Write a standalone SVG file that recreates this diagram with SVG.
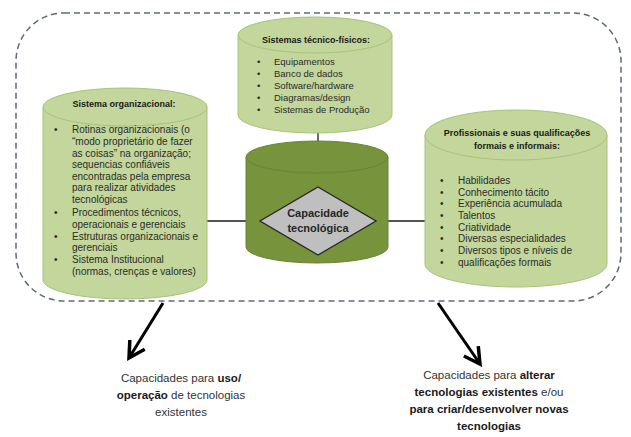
<svg xmlns="http://www.w3.org/2000/svg" width="631" height="437" viewBox="0 0 631 437">
<defs>
<style>
.cyl{fill:#C3D69B;stroke:#A9C37A;stroke-width:1}
.cylD{fill:#77933C;stroke:#6A8535;stroke-width:1}
.t{font-family:"Liberation Sans",Arial,sans-serif;font-size:10px;fill:#2b2b2b}
.tt{font-family:"Liberation Sans",Arial,sans-serif;font-size:9px;font-weight:bold;fill:#1a1a1a;text-anchor:middle}
.dt{font-family:"Liberation Sans",Arial,sans-serif;font-size:11px;font-weight:bold;fill:#262626;text-anchor:middle}
.b{font-family:"Liberation Sans",Arial,sans-serif;font-size:11.5px;fill:#333;text-anchor:middle}
.bb{font-weight:bold;fill:#1a1a1a}
.ln{stroke:#1a1a1a;stroke-width:1.3;fill:none}
.arr{stroke:#000;stroke-width:3;fill:none;marker-end:url(#chev)}
</style>
<marker id="chev" viewBox="0 0 12 12" refX="10" refY="6" markerWidth="7" markerHeight="7" orient="auto" markerUnits="strokeWidth">
<path d="M1,1 L10,6 L1,11" fill="none" stroke="#000" stroke-width="2"/>
</marker>
</defs>
<rect x="16" y="13" width="605" height="288" rx="48" ry="48" fill="none" stroke="#5f6a75" stroke-width="1.5" stroke-dasharray="6,4"/>
<g id="connectors">
<line class="ln" x1="318" y1="131" x2="318" y2="187"/>
<line class="ln" x1="206" y1="221" x2="260" y2="221"/>
<line class="ln" x1="376" y1="221" x2="426" y2="221"/>
<line class="arr" x1="163" y1="303" x2="129" y2="358"/>
<line class="arr" x1="438" y1="303" x2="480" y2="364"/>
</g>
<g id="centro">
<path class="cylD" d="M246,157 L246,247 A71,16 0 0 0 388,247 L388,157 Z"/>
<ellipse class="cylD" cx="317" cy="157" rx="71" ry="16"/>
</g>
<g id="tecnico-fisicos">
<path class="cyl" d="M238,35 L238,115 A77,18 0 0 0 392,115 L392,35 Z"/>
<ellipse class="cyl" cx="315" cy="35" rx="77" ry="18"/>
<text class="tt" x="316" y="43">Sistemas técnico-físicos:</text>
<g class="t" style="font-size:9.5px">
<text x="257" y="64.5">•</text><text x="274" y="64.5">Equipamentos</text>
<text x="257" y="76.5">•</text><text x="274" y="76.5">Banco de dados</text>
<text x="257" y="88.5">•</text><text x="274" y="88.5">Software/hardware</text>
<text x="257" y="100.5">•</text><text x="274" y="100.5">Diagramas/design</text>
<text x="257" y="113">•</text><text x="274" y="113">Sistemas de Produção</text>
</g>
</g>
<g id="organizacional">
<path class="cyl" d="M43,107 L43,280 A82,19 0 0 0 207,280 L207,107 Z"/>
<ellipse class="cyl" cx="125" cy="107" rx="82" ry="19"/>
<text class="tt" x="124" y="107">Sistema organizacional:</text>
<g class="t">
<text x="54" y="132.5">•</text><text x="72" y="132.5">Rotinas organizacionais  (o</text>
<text x="72" y="144.5">“modo proprietário de fazer</text>
<text x="72" y="156.5">as coisas” na organização;</text>
<text x="72" y="167.5">sequencias confiáveis</text>
<text x="72" y="179.5">encontradas pela empresa</text>
<text x="72" y="190.5">para realizar  atividades</text>
<text x="72" y="202.5">tecnológicas</text>
<text x="54" y="215.5">•</text><text x="72" y="215.5">Procedimentos técnicos,</text>
<text x="72" y="227.5">operacionais e gerenciais</text>
<text x="54" y="239.5">•</text><text x="72" y="239.5">Estruturas organizacionais e</text>
<text x="72" y="250.5">gerenciais</text>
<text x="54" y="262.5">•</text><text x="72" y="262.5">Sistema Institucional</text>
<text x="72" y="274.5">(normas, crenças e valores)</text>
</g>
</g>
<g id="profissionais">
<path class="cyl" d="M425,135 L425,264 A91,23 0 0 0 607,264 L607,135 Z"/>
<ellipse class="cyl" cx="516" cy="135" rx="91" ry="25"/>
<text class="tt" x="517" y="136">Profissionais e suas qualificações</text>
<text class="tt" x="517" y="149">formais e informais:</text>
<g class="t">
<text x="440" y="183.5">•</text><text x="458" y="183.5">Habilidades</text>
<text x="440" y="195.5">•</text><text x="458" y="195.5">Conhecimento tácito</text>
<text x="440" y="206.5">•</text><text x="458" y="206.5">Experiência acumulada</text>
<text x="440" y="218.5">•</text><text x="458" y="218.5">Talentos</text>
<text x="440" y="230.5">•</text><text x="458" y="230.5">Criatividade</text>
<text x="440" y="241.5">•</text><text x="458" y="241.5">Diversas especialidades</text>
<text x="440" y="253.5">•</text><text x="458" y="253.5">Diversos tipos e níveis de</text>
<text x="440" y="265.5">•</text><text x="458" y="265.5">qualificações formais</text>
</g>
</g>
<g id="capacidade">
<polygon points="318,187 376,221 318,255 260,221" fill="#BFBFBF" stroke="#262626" stroke-width="1.3"/>
<text class="dt" x="318" y="217">Capacidade</text>
<text class="dt" x="318" y="232">tecnológica</text>
</g>
<g id="uso">
<text class="b" x="181" y="382">Capacidades para <tspan class="bb">uso/</tspan></text>
<text class="b" x="181" y="399"><tspan class="bb">operação</tspan> de tecnologias</text>
<text class="b" x="181" y="416">existentes</text>
</g>
<g id="alterar">
<text class="b" x="489" y="379">Capacidades para <tspan class="bb">alterar</tspan></text>
<text class="b" x="489" y="396"><tspan class="bb">tecnologias existentes</tspan> e/ou</text>
<text class="b bb" x="489" y="413">para criar/desenvolver novas</text>
<text class="b bb" x="489" y="430">tecnologias</text>
</g>
</svg>
